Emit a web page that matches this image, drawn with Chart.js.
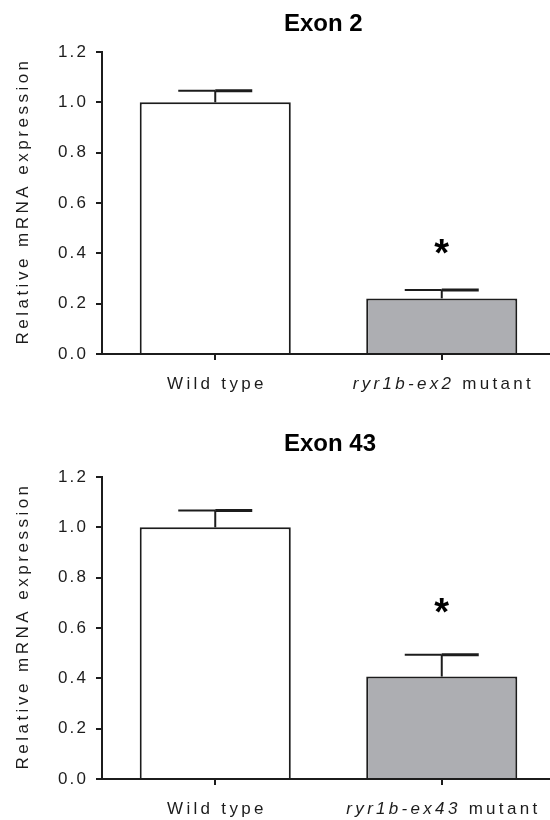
<!DOCTYPE html>
<html>
<head>
<meta charset="utf-8">
<script src="https://cdn.jsdelivr.net/npm/chart.js@4.4.1/dist/chart.umd.min.js"></script>
<style>
html, body { margin: 0; padding: 0; background: #fff; }
#wrap { position: relative; width: 550px; height: 820px; overflow: hidden; }
canvas { position: absolute; left: 0; }
</style>
</head>
<body>
<div id="wrap">
  <canvas id="exon2" width="558" height="410" style="top:0"></canvas>
  <canvas id="exon43" width="558" height="410" style="top:410px"></canvas>
</div>
<script>
// shared
const yTicks = [0, 0.2, 0.4, 0.6, 0.8, 1.0, 1.2];
const yTitle = 'Relative mRNA expression';
const barColors = ['#ffffff', '#adaeb2'];

// Exon 2 panel
const ex2Title = 'Exon 2';
const ex2Labels = ['Wild type', 'ryr1b-ex2 mutant'];
const ex2Italic = ['', 'ryr1b-ex2'];
const ex2Means = [1.0, 0.221];
const ex2Errors = [0.046, 0.033];
const ex2Stars = [null, 0.426];

// Exon 43 panel
const ex43Title = 'Exon 43';
const ex43Labels = ['Wild type', 'ryr1b-ex43 mutant'];
const ex43Italic = ['', 'ryr1b-ex43'];
const ex43Means = [1.0, 0.407];
const ex43Errors = [0.067, 0.087];
const ex43Stars = [null, 0.69];

const FONT = "'Liberation Sans', Arial, sans-serif";
const INK = '#1c1c1c';

function extrasPlugin(p) {
    return {
        id: 'extras',
        beforeDraw(chart) {
            // tick labels in the original are widely spaced
            chart.ctx.letterSpacing = '2.1px';
        },
        afterDatasetsDraw(chart) {
            const ctx = chart.ctx;
            const y = chart.scales.y;
            const meta = chart.getDatasetMeta(0);
            ctx.save();
            ctx.strokeStyle = INK;
            meta.data.forEach((bar, i) => {
                const cx = bar.x;
                const y0 = y.getPixelForValue(p.means[i]);
                const y1 = y.getPixelForValue(p.means[i] + p.errors[i]);
                ctx.lineWidth = 2;
                ctx.beginPath();
                ctx.moveTo(cx, y0);
                ctx.lineTo(cx, y1);
                ctx.stroke();
                ctx.beginPath();
                ctx.moveTo(cx - 37, y1);
                ctx.lineTo(cx, y1);
                ctx.stroke();
                ctx.lineWidth = 3;
                ctx.beginPath();
                ctx.moveTo(cx, y1);
                ctx.lineTo(cx + 37, y1);
                ctx.stroke();
                if (p.stars[i] != null) {
                    ctx.fillStyle = '#000';
                    ctx.font = 'bold 38px ' + FONT;
                    ctx.letterSpacing = '0px';
                    ctx.textAlign = 'center';
                    ctx.textBaseline = 'alphabetic';
                    const m = ctx.measureText('*');
                    const yc = y.getPixelForValue(p.stars[i]);
                    ctx.fillText('*', cx, yc + (m.actualBoundingBoxAscent - m.actualBoundingBoxDescent) / 2);
                }
            });
            ctx.restore();
        },
        afterDraw(chart) {
            const ctx = chart.ctx;
            const area = chart.chartArea;
            const x = chart.scales.x;
            ctx.save();
            ctx.fillStyle = '#000';

            // panel title
            ctx.letterSpacing = '0px';
            ctx.font = 'bold 24px ' + FONT;
            ctx.textAlign = 'left';
            ctx.textBaseline = 'middle';
            ctx.fillText(p.title, area.left + 182, p.titleY);

            // category labels, italic gene name + plain rest
            ctx.fillStyle = INK;
            ctx.letterSpacing = '3.3px';
            ctx.textBaseline = 'middle';
            p.labels.forEach((lab, i) => {
                const it = p.italic[i];
                const rest = lab.slice(it.length);
                ctx.font = 'italic 17px ' + FONT;
                const w1 = it ? ctx.measureText(it).width : 0;
                ctx.font = '17px ' + FONT;
                const w2 = ctx.measureText(rest).width;
                let sx = x.getPixelForValue(i) - (w1 + w2 - 3.3) / 2;
                if (it) {
                    ctx.font = 'italic 17px ' + FONT;
                    ctx.fillText(it, sx, area.bottom + 30);
                    sx += w1;
                }
                ctx.font = '17px ' + FONT;
                ctx.fillText(rest, sx, area.bottom + 30);
            });

            // y axis title
            ctx.letterSpacing = '3.5px';
            ctx.font = '17px ' + FONT;
            ctx.textAlign = 'center';
            ctx.translate(23, (area.top + area.bottom) / 2);
            ctx.rotate(-Math.PI / 2);
            ctx.fillText(yTitle, 2, 0);
            ctx.restore();
        }
    };
}

function makeChart(id, p) {
    return new Chart(document.getElementById(id), {
        type: 'bar',
        data: {
            labels: p.labels,
            datasets: [{
                data: p.means,
                backgroundColor: barColors,
                borderColor: INK,
                borderWidth: 2,
                borderSkipped: 'bottom',
                barPercentage: 0.667,
                categoryPercentage: 1.0
            }]
        },
        options: {
            responsive: false,
            animation: false,
            devicePixelRatio: 1,
            layout: { padding: { top: p.padTop, right: 3, bottom: p.padBottom, left: 0 } },
            plugins: {
                legend: { display: false },
                tooltip: { enabled: false },
                title: { display: false }
            },
            scales: {
                x: {
                    type: 'category',
                    offset: true,
                    grid: { offset: false, drawOnChartArea: false, tickLength: 6, lineWidth: 2, color: INK },
                    border: { display: true, color: INK, width: 2 },
                    ticks: { callback: () => '' },
                    afterFit: (s) => { s.height = 40; }
                },
                y: {
                    type: 'linear',
                    min: 0,
                    max: 1.2,
                    afterBuildTicks: (s) => { s.ticks = yTicks.map(v => ({ value: v })); },
                    grid: { drawOnChartArea: false, tickLength: 6, lineWidth: 2, color: INK },
                    border: { display: true, color: INK, width: 2 },
                    ticks: {
                        padding: 8,
                        color: INK,
                        font: { family: FONT, size: 17 },
                        callback: (v) => Number(v).toFixed(1)
                    },
                    afterFit: (s) => { s.width = 102; }
                }
            }
        },
        plugins: [extrasPlugin(p)]
    });
}

makeChart('exon2', {
    title: ex2Title, titleY: 24, labels: ex2Labels, italic: ex2Italic,
    means: ex2Means, errors: ex2Errors, stars: ex2Stars,
    padTop: 52, padBottom: 16
});

makeChart('exon43', {
    title: ex43Title, titleY: 34, labels: ex43Labels, italic: ex43Italic,
    means: ex43Means, errors: ex43Errors, stars: ex43Stars,
    padTop: 67, padBottom: 1
});
</script>
</body>
</html>
